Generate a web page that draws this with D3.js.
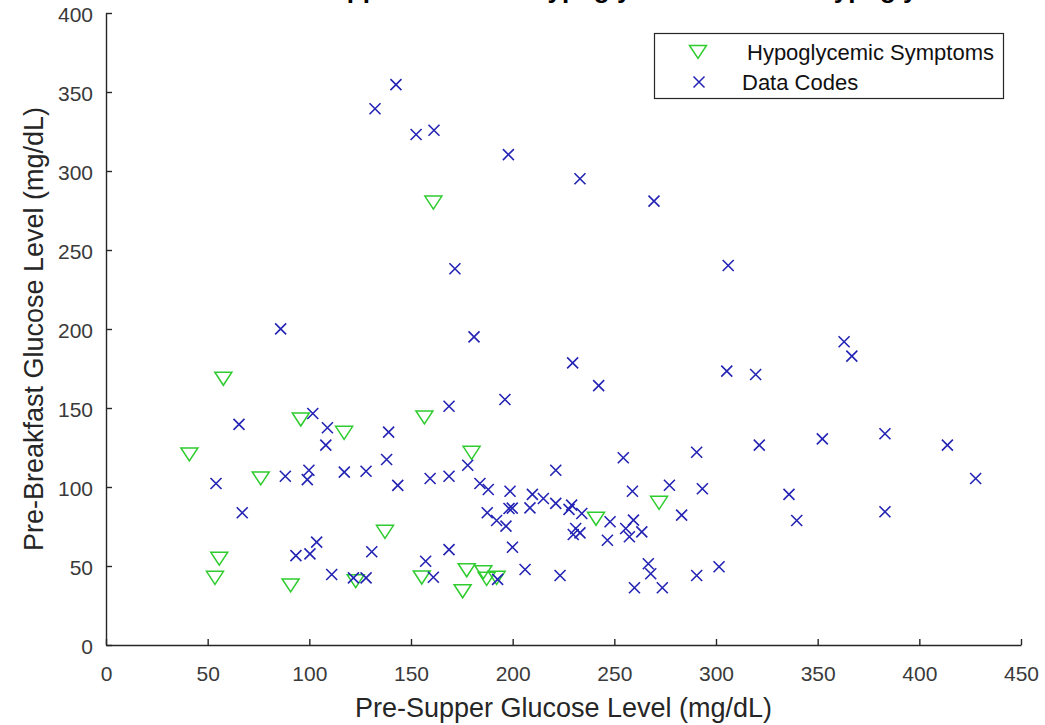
<!DOCTYPE html>
<html>
<head>
<meta charset="utf-8">
<script src="https://cdn.jsdelivr.net/npm/d3@7"></script>
<style>
  html, body { margin: 0; padding: 0; background: #fff; }
  svg { display: block; }
  text { font-family: "Liberation Sans", Arial, Helvetica, sans-serif; }
</style>
</head>
<body>
<svg id="chart" width="1045" height="725"></svg>
<script>
// Readings with hypoglycemic symptoms (pre-supper, pre-breakfast), mg/dL
const hypoSupper    = [161, 57.7, 95.8, 117.1, 41, 156.6, 76.1, 137.2, 55.7, 53.6, 90.8, 122.8, 155.3, 179.8, 272, 241, 177.4, 185.6, 187.2, 192.1, 175.4];
const hypoBreakfast = [280, 168.5, 142.7, 134.3, 120.6, 144, 105.4, 71.6, 54.6, 42.5, 37.7, 40.4, 42.7, 121.6, 90, 79.9, 47.3, 46.1, 41.9, 42.5, 34];

// All coded readings (pre-supper, pre-breakfast), mg/dL
const codeSupper = [142.6, 132.3, 152.5, 161.3, 197.9, 233.1, 269.5, 171.6, 306, 85.9,
  181, 229.5, 242.3, 305.3, 319.5, 363, 366.8, 168.7, 196.2, 65.4,
  101.7, 108.9, 108.1, 139, 138, 177.9, 54.1, 88.2, 99.8, 99,
  117.2, 127.9, 143.5, 159.4, 168.7, 183.9, 188, 198.7, 209.7, 215.1,
  221.2, 221.2, 229, 227.7, 234, 198.2, 199.8, 208.5, 187.5, 192.1,
  196.7, 199.9, 254.4, 258.9, 277.1, 290.5, 293.3, 283.1, 247.9, 259.4,
  255.6, 263.5, 257.4, 231, 229.8, 233.1, 246.6, 67, 103.6, 100.3,
  93.4, 130.7, 157.2, 168.7, 111, 121.7, 127.9, 161, 192.6, 206.1,
  223.3, 266.7, 267.9, 290.5, 301.5, 259.9, 273.6, 321.3, 352.3, 383.1,
  413.8, 427.7, 335.9, 339.7, 383.1];
const codeBreakfast = [354.7, 339.4, 323.1, 325.8, 310.4, 295.1, 280.9, 238.1, 240.2, 200.1,
  195, 178.6, 164.2, 173.3, 171.2, 191.9, 182.8, 151.1, 155.4, 139.6,
  146.5, 137.5, 126.5, 134.7, 117.4, 113.8, 102.2, 106.8, 110.6, 104.7,
  109.4, 110, 101, 105.4, 106.8, 102.2, 98.4, 97.3, 95.3, 92.7,
  110.6, 89.6, 88.5, 85.8, 83.2, 86.4, 86.6, 86.8, 83.7, 78.8,
  75.2, 61.9, 118.5, 97.3, 101.1, 122, 98.9, 82.2, 78, 79,
  73.7, 71.6, 68.5, 73.7, 69.9, 71, 66.3, 83.7, 65.1, 57.7,
  56.6, 59, 53, 60.4, 44.6, 42.5, 42.5, 42.9, 41.5, 47.8,
  44, 51.4, 45.1, 44, 49.5, 36.2, 36.2, 126.5, 130.5, 133.7,
  126.5, 105.4, 95.3, 78.8, 84.3];

const xTicks = [0, 50, 100, 150, 200, 250, 300, 350, 400, 450];
const yTicks = [0, 50, 100, 150, 200, 250, 300, 350, 400];
const seriesNames = ["Hypoglycemic Symptoms", "Data Codes"];

const titleText = "Pre-Breakfast vs. Pre-Supper Glucose: Hypoglycemic vs. Non-Hypoglycemic Events";
const xLabel = "Pre-Supper Glucose Level (mg/dL)";
const yLabel = "Pre-Breakfast Glucose Level (mg/dL)";

const svg = d3.select("#chart");
const plotLeft = 106, plotRight = 1021, plotTop = 13, plotBottom = 645;
const axisColor = "#262626";
const green = "#2ecc2e", blue = "#2323b4";

const x = d3.scaleLinear().domain([0, 450]).range([plotLeft, plotRight]);
const y = d3.scaleLinear().domain([0, 400]).range([plotBottom, plotTop]);

// Title (bold, centred over the axes; runs off the top of the figure)
svg.append("text")
  .attr("x", (plotLeft + plotRight) / 2)
  .attr("y", -2)
  .attr("text-anchor", "middle")
  .attr("font-size", 26)
  .attr("font-weight", "bold")
  .attr("fill", "#000")
  .text(titleText);

// Axes with inward ticks
const xAxis = d3.axisBottom(x).tickValues(xTicks).tickSizeInner(-6).tickSizeOuter(0).tickPadding(14);
const yAxis = d3.axisLeft(y).tickValues(yTicks).tickSizeInner(-6).tickSizeOuter(0).tickPadding(13);

const gx = svg.append("g").attr("transform", `translate(0,${plotBottom})`).call(xAxis);
const gy = svg.append("g").attr("transform", `translate(${plotLeft},0)`).call(yAxis);

[gx, gy].forEach(g => {
  g.select(".domain").attr("stroke", axisColor).attr("stroke-width", 1.4);
  g.selectAll(".tick line").attr("stroke", axisColor).attr("stroke-width", 1.4);
  g.selectAll(".tick text")
    .attr("fill", "#3a3a3a")
    .attr("font-size", 21)
    .attr("font-family", "Liberation Sans, Arial, sans-serif");
});
gx.selectAll(".tick text").attr("dy", "1.05em");
gy.selectAll(".tick text").attr("dy", "0.42em");

// Axis labels
svg.append("text")
  .attr("x", (plotLeft + plotRight) / 2)
  .attr("y", 717)
  .attr("text-anchor", "middle")
  .attr("font-size", 27)
  .attr("fill", "#262626")
  .text(xLabel);

svg.append("text")
  .attr("transform", `translate(43,${(plotTop + plotBottom) / 2}) rotate(-90)`)
  .attr("text-anchor", "middle")
  .attr("font-size", 27)
  .attr("fill", "#262626")
  .text(yLabel);

// Marker shapes
const triPath = "M-8.5,-6.5L8.5,-6.5L0,6.5Z";
const crossPath = "M-5.5,-5.5L5.5,5.5M-5.5,5.5L5.5,-5.5";

// Hypoglycemic symptom markers (downward triangles)
svg.append("g").selectAll("path")
  .data(d3.range(hypoSupper.length))
  .join("path")
  .attr("d", triPath)
  .attr("transform", i => `translate(${x(hypoSupper[i])},${y(hypoBreakfast[i])})`)
  .attr("fill", "none")
  .attr("stroke", green)
  .attr("stroke-width", 1.5)
  .attr("stroke-linejoin", "miter");

// Data code markers (crosses)
svg.append("g").selectAll("path")
  .data(d3.range(codeSupper.length))
  .join("path")
  .attr("d", crossPath)
  .attr("transform", i => `translate(${x(codeSupper[i])},${y(codeBreakfast[i])})`)
  .attr("fill", "none")
  .attr("stroke", blue)
  .attr("stroke-width", 1.6);

// Legend
const legend = svg.append("g");
legend.append("rect")
  .attr("x", 654.5).attr("y", 33.5)
  .attr("width", 349).attr("height", 65)
  .attr("fill", "#fff")
  .attr("stroke", axisColor)
  .attr("stroke-width", 1.2);

const legendRows = [
  { name: seriesNames[0], shape: triPath, color: green, cy: 52, mx: 698, tx: 747 },
  { name: seriesNames[1], shape: crossPath, color: blue, cy: 82, mx: 699, tx: 742 }
];
legendRows.forEach(r => {
  legend.append("path")
    .attr("d", r.shape)
    .attr("transform", `translate(${r.mx},${r.cy})`)
    .attr("fill", "none")
    .attr("stroke", r.color)
    .attr("stroke-width", 1.5);
  legend.append("text")
    .attr("x", r.tx)
    .attr("y", r.cy)
    .attr("dy", "0.36em")
    .attr("font-size", 22)
    .attr("fill", "#111")
    .text(r.name);
});
</script>
</body>
</html>
